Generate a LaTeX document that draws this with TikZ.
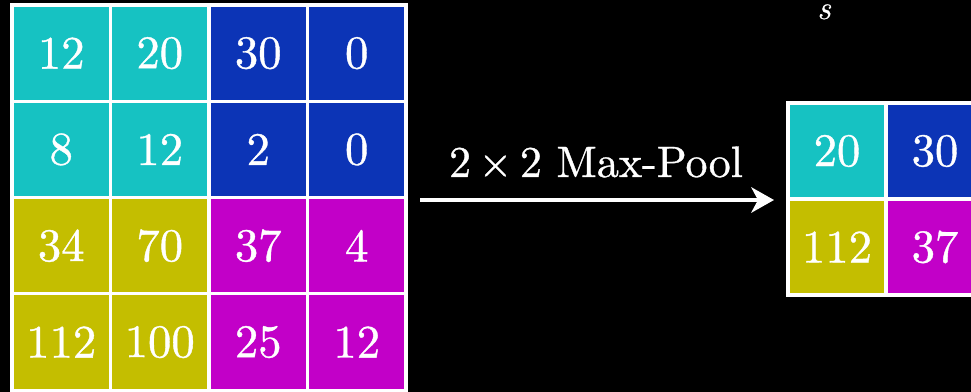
\documentclass[tikz,border=0pt]{standalone}
\usepackage{fontspec}
\usetikzlibrary{arrows.meta}
\newfontfamily\cmfont[FakeBold=0.8]{lmroman10-regular.otf}
\newfontfamily\cmital[FakeBold=0.5]{lmroman10-italic.otf}
\definecolor{cyc}{RGB}{22,194,194}
\definecolor{blc}{RGB}{12,52,182}
\definecolor{olc}{RGB}{196,190,0}
\definecolor{mgc}{RGB}{194,0,200}
\begin{document}
\begin{tikzpicture}[x=0.75pt,y=-0.75pt,
  cell/.style={draw=white,line width=2.3pt,minimum width=73.9pt,minimum height=72.2pt,inner sep=0pt,outer sep=0pt,text=white,font=\fontsize{35}{40}\cmfont},
  rcell/.style={cell,minimum width=73.5pt,minimum height=72pt},
  arr/.style={draw=white,line width=3pt,-{Stealth[length=17pt,width=19pt,inset=5pt]}},
  lab/.style={text=white,font=\fontsize{33}{38}\cmfont,inner sep=0pt}]
\fill[black] (0,0) rectangle (971,392);
\useasboundingbox (0,0) rectangle (971,392);
% left grid
\node[cell,fill=cyc] (a11) at (61.25,53.15) {12};
\node[cell,fill=cyc] (a12) at (159.75,53.15) {20};
\node[cell,fill=blc] (a13) at (258.25,53.15) {30};
\node[cell,fill=blc] (a14) at (356.75,53.15) {0};
\node[cell,fill=cyc] (a21) at (61.25,149.45) {8};
\node[cell,fill=cyc] (a22) at (159.75,149.45) {12};
\node[cell,fill=blc] (a23) at (258.25,149.45) {2};
\node[cell,fill=blc] (a24) at (356.75,149.45) {0};
\node[cell,fill=olc] (a31) at (61.25,245.75) {34};
\node[cell,fill=olc] (a32) at (159.75,245.75) {70};
\node[cell,fill=mgc] (a33) at (258.25,245.75) {37};
\node[cell,fill=mgc] (a34) at (356.75,245.75) {4};
\node[cell,fill=olc] (a41) at (61.25,342.05) {112};
\node[cell,fill=olc] (a42) at (159.75,342.05) {100};
\node[cell,fill=mgc] (a43) at (258.25,342.05) {25};
\node[cell,fill=mgc] (a44) at (356.75,342.05) {12};
% right grid
\node[rcell,fill=cyc] (b11) at (837,151) {20};
\node[rcell,fill=blc] (b12) at (935,151) {30};
\node[rcell,fill=olc] (b21) at (837,247) {112};
\node[rcell,fill=mgc] (b22) at (935,247) {37};
% arrow
\coordinate (as) at (420,200);
\coordinate (ae) at (774,200);
\draw[arr] (as) -- (ae);
\node[lab,anchor=base] (lbl) at (596,177) {2\,×\,2 Max-Pool};
% stray label
\node[text=white,font=\fontsize{25}{30}\cmital,inner sep=0pt,anchor=base] (s) at (824,19) {s};
\end{tikzpicture}
\end{document}
